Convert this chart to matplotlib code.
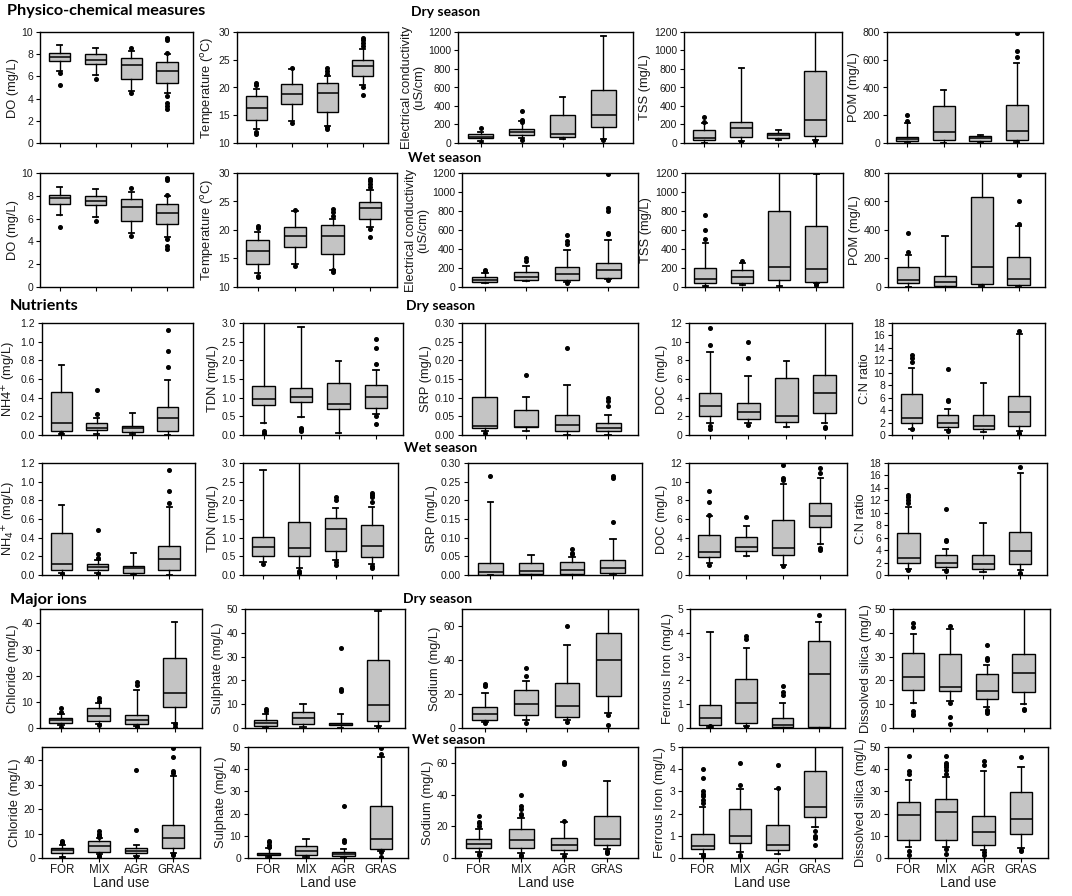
import matplotlib
matplotlib.use("Agg")
import matplotlib.pyplot as plt
from matplotlib.ticker import FormatStrFormatter

plt.rcParams['font.family'] = ['Liberation Sans', 'DejaVu Sans']

land_use = ["FOR", "MIX", "AGR", "GRAS"]

# (whislo, q1, median, q3, whishi) per land use ; outliers per land use
do_dry = [(6.5, 7.35, 7.75, 8.1, 8.8), (6.1, 7.15, 7.5, 8.0, 8.6), (4.7, 5.8, 7.05, 7.7, 8.3), (4.5, 5.45, 6.5, 7.3, 8.0)]
do_dry_out = [[6.3, 5.2], [5.8], [8.6, 4.5], [9.5, 9.3, 8.1, 4.2, 3.6, 3.3, 3.1]]
temp_dry = [(12.5, 14.1, 16.3, 18.4, 19.7), (14.0, 17.1, 18.9, 20.6, 23.4), (13.0, 15.6, 19.0, 20.8, 22.0), (20.5, 22.1, 23.8, 24.9, 27.0)]
temp_dry_out = [[20.8, 20.4, 12.0, 11.7], [13.6, 23.5], [12.5, 12.8, 22.5, 23.0, 23.6], [20.0, 18.7, 27.5, 28.0, 28.5, 29.0]]
ec_dry = [(20, 50, 70, 95, 120), (50, 85, 120, 148, 237), (45, 70, 102, 304, 502), (42, 177, 304, 572, 1162)]
ec_dry_out = [[165, 5], [350, 250, 230, 30], [], [30]]
tss_dry = [(0, 35, 50, 138, 219), (20, 60, 166, 226, 813), (30, 49, 85, 113, 138), (30, 71, 254, 777, 1300)]
tss_dry_out = [[283, 230], [10], [], [20]]
pom_dry = [(0, 12, 28, 45, 142), (0, 24, 76, 265, 379), (0, 12, 35, 47, 55), (5, 19, 88, 275, 573)]
pom_dry_out = [[160, 205], [], [], [620, 660, 790, 0]]

do_wet = [(6.3, 7.3, 7.8, 8.1, 8.8), (6.1, 7.2, 7.55, 8.0, 8.6), (4.7, 5.8, 7.0, 7.7, 8.3), (4.4, 5.5, 6.5, 7.3, 8.0)]
do_wet_out = [[5.3], [5.8], [8.7, 4.5], [9.6, 9.4, 8.1, 4.2, 3.6, 3.3]]
temp_wet = [(12.5, 14.1, 16.4, 18.3, 19.6), (14.0, 17.0, 18.9, 20.6, 23.4), (13.0, 15.8, 18.9, 20.9, 22.0), (20.5, 22.0, 23.8, 24.9, 27.0)]
temp_wet_out = [[20.7, 20.3, 12.0, 11.8], [13.7, 23.5], [12.6, 12.9, 22.5, 23.2, 23.7], [20.2, 18.7, 27.5, 28.0, 28.6, 29.0]]
ec_wet = [(40, 50, 75, 105, 150), (60, 71, 107, 153, 224), (55, 71, 142, 213, 392), (80, 96, 178, 249, 498)]
ec_wet_out = [[170, 180], [270, 302], [450, 480, 545, 40], [560, 570, 800, 830, 1190, 70]]
tss_wet = [(10, 46, 81, 198, 466), (20, 46, 106, 176, 250), (15, 71, 212, 798, 1300), (40, 56, 187, 646, 1186)]
tss_wet_out = [[508, 604, 759, 0], [270], [], [30, 20]]
pom_wet = [(0, 31, 47, 141, 224), (0, 7, 35, 78, 360), (10, 24, 141, 631, 900), (0, 16, 59, 212, 426)]
pom_wet_out = [[245, 380], [], [], [440, 600, 788]]

nh4_dry = [(0.01, 0.04, 0.125, 0.46, 0.745), (0.01, 0.05, 0.08, 0.125, 0.18), (0.01, 0.03, 0.07, 0.097, 0.24), (0.0, 0.046, 0.18, 0.30, 0.59)]
nh4_dry_out = [[0.02], [0.22, 0.48], [], [0.73, 0.90, 1.13]]
tdn_dry = [(0.33, 0.8, 0.97, 1.32, 3.1), (0.47, 0.89, 1.03, 1.25, 2.9), (0.05, 0.69, 0.83, 1.38, 1.97), (0.55, 0.72, 1.03, 1.34, 1.75)]
tdn_dry_out = [[0.1, 0.05, 0.0], [0.2, 0.15, 0.1], [], [1.9, 2.33, 2.58, 0.5, 0.3]]
srp_dry = [(0.01, 0.018, 0.025, 0.103, 0.32), (0.01, 0.021, 0.022, 0.067, 0.103), (0.0, 0.012, 0.027, 0.054, 0.133), (0.0, 0.012, 0.02, 0.031, 0.054)]
srp_dry_out = [[0.005], [0.16], [0.233], [0.079, 0.09, 0.10]]
doc_dry = [(1.3, 2.0, 3.15, 4.55, 8.9), (1.3, 1.75, 2.45, 3.4, 6.3), (0.9, 1.4, 2.0, 6.1, 7.9), (1.3, 2.4, 4.55, 6.4, 12.5)]
doc_dry_out = [[9.6, 11.5, 1.0, 0.6], [8.3, 10.0, 1.1], [], [0.9, 0.8]]
cn_dry = [(1.0, 1.9, 2.7, 6.65, 10.8), (0.8, 1.3, 2.0, 3.25, 4.2), (0.5, 0.9, 1.5, 3.25, 8.3), (0.7, 1.5, 3.65, 6.3, 16.2)]
cn_dry_out = [[11.7, 12.3, 12.8, 0.9], [5.5, 5.6, 10.6, 0.7], [], [16.7, 0.3, 0.1]]

nh4_wet = [(0.02, 0.054, 0.118, 0.455, 0.745), (0.02, 0.054, 0.09, 0.118, 0.16), (0.01, 0.025, 0.07, 0.097, 0.24), (0.0, 0.054, 0.175, 0.31, 0.73)]
nh4_wet_out = [[0.01], [0.18, 0.22, 0.48, 0.01], [0.005], [0.77, 0.90, 1.13]]
tdn_wet = [(0.35, 0.5, 0.75, 1.03, 2.8), (0.2, 0.52, 0.72, 1.43, 3.1), (0.4, 0.65, 1.22, 1.53, 1.8), (0.3, 0.49, 0.78, 1.34, 1.83)]
tdn_wet_out = [[0.3], [0.1, 0.05], [2.0, 2.1, 0.35, 0.28], [1.95, 2.1, 2.15, 2.2, 0.25, 0.2]]
srp_wet = [(0.0, 0.0, 0.008, 0.031, 0.195), (0.0, 0.003, 0.011, 0.033, 0.054), (0.0, 0.004, 0.013, 0.036, 0.047), (0.0, 0.006, 0.018, 0.039, 0.097)]
srp_wet_out = [[0.265], [], [0.055, 0.06, 0.07], [0.143, 0.26, 0.265]]
doc_wet = [(1.3, 1.97, 2.47, 4.3, 6.3), (2.0, 2.6, 3.05, 4.05, 5.3), (1.1, 2.1, 2.87, 5.85, 9.8), (3.3, 5.1, 6.27, 7.7, 10.4)]
doc_wet_out = [[6.4, 7.8, 9.0, 1.1], [6.2], [10.2, 10.4, 11.8, 1.0], [10.9, 11.5, 2.9, 2.7]]
cn_wet = [(1.0, 1.9, 2.7, 6.7, 11.0), (0.8, 1.35, 2.0, 3.25, 4.2), (0.5, 1.0, 1.8, 3.25, 8.3), (0.8, 1.75, 3.8, 6.95, 16.4)]
cn_wet_out = [[11.5, 12.0, 12.5, 12.8, 0.8], [5.4, 5.7, 10.6, 0.7], [], [17.3, 0.4, 0.2]]

cl_dry = [(1.0, 1.9, 2.9, 3.85, 5.5), (1.5, 2.7, 4.5, 7.7, 9.7), (0.8, 1.7, 3.2, 4.9, 14.5), (2.0, 8.0, 13.2, 26.8, 40.5)]
cl_dry_out = [[6.0, 7.5, 0.5], [10.5, 11.5, 1.2], [16.5, 17.5, 0.5], [1.5, 0.3]]
so4_dry = [(0.3, 1.0, 2.0, 3.2, 6.0), (0.5, 1.7, 4.2, 6.8, 10.2), (0.2, 1.3, 1.7, 2.1, 5.8), (1.0, 2.9, 9.5, 28.5, 49.0)]
so4_dry_out = [[7.0, 8.0], [], [15.5, 16.5, 33.5], [0.5]]
na_dry = [(3.5, 4.7, 8.2, 12.5, 20.5), (4.7, 7.8, 13.9, 22.4, 27.8), (4.5, 6.3, 12.9, 26.5, 48.6), (8.8, 19.0, 39.8, 56.0, 75.0)]
na_dry_out = [[25.0, 26.0, 3.0], [30.6, 35.3, 2.7], [59.8, 3.5], [7.5, 2.0]]
fe_dry = [(0.05, 0.14, 0.41, 0.96, 4.05), (0.1, 0.22, 1.06, 2.07, 3.38), (0.0, 0.04, 0.11, 0.43, 1.05), (0.0, 0.04, 2.26, 3.67, 4.45)]
fe_dry_out = [[0.1, 0.0], [3.75, 3.85, 0.05], [1.4, 1.5, 1.75], [4.75]]
si_dry = [(10.5, 16.1, 21.6, 31.6, 39.5), (11.5, 15.7, 17.3, 31.1, 41.5), (9.0, 12.3, 15.7, 22.6, 26.5), (10.0, 15.0, 23.0, 31.1, 55.0)]
si_dry_out = [[42.5, 44.0, 7.0, 6.0, 5.5], [43.0, 10.5, 4.5, 1.5], [28.5, 29.5, 35.0, 7.5, 7.0, 6.5], [8.0, 7.5]]

cl_wet = [(0.5, 2.0, 3.3, 4.3, 5.5), (1.5, 2.6, 5.0, 6.9, 8.0), (0.8, 2.0, 3.0, 4.0, 5.5), (2.0, 4.3, 8.2, 13.7, 33.5)]
cl_wet_out = [[6.0, 6.5, 7.0, 0.2], [8.5, 9.0, 9.5, 10.0, 11.0, 1.0, 0.8], [11.5, 36.0, 0.5], [35.0, 35.5, 41.5, 45.0, 1.5, 1.2]]
so4_wet = [(0.5, 1.4, 1.8, 2.4, 4.5), (0.5, 1.4, 3.1, 5.2, 8.5), (0.5, 1.1, 1.8, 2.8, 4.2), (3.0, 3.9, 8.4, 23.2, 45.5)]
so4_wet_out = [[5.0, 6.0, 7.0, 7.8, 0.3], [], [7.0, 8.0, 23.5], [47.0, 49.5, 2.5, 0.5]]
na_wet = [(3.5, 6.1, 9.1, 12.0, 18.5), (3.0, 6.1, 11.5, 18.4, 25.5), (2.5, 5.0, 8.5, 12.5, 23.0), (5.5, 8.5, 11.9, 26.4, 48.6)]
na_wet_out = [[20.0, 22.0, 23.0, 26.5, 2.5, 2.0], [27.0, 28.0, 31.0, 33.0, 40.0, 2.0, 1.5], [23.5, 59.0, 60.5, 1.5], [4.5, 3.5, 3.0]]
fe_wet = [(0.2, 0.41, 0.56, 1.07, 2.3), (0.25, 0.66, 0.98, 2.2, 3.1), (0.2, 0.37, 0.59, 1.47, 3.1), (1.4, 1.84, 2.31, 3.9, 5.5)]
fe_wet_out = [[2.5, 2.6, 2.8, 2.9, 3.0, 3.6, 4.0, 0.1, 0.15], [3.3, 4.3, 0.15, 0.1], [3.15, 4.2], [1.2, 1.0, 0.9, 0.6]]
si_wet = [(5.0, 7.9, 19.4, 25.3, 35.0), (5.0, 7.9, 20.6, 26.8, 36.5), (3.5, 5.9, 11.6, 18.7, 39.0), (4.5, 10.6, 17.6, 29.7, 41.0)]
si_wet_out = [[38.0, 39.0, 46.0, 3.0, 1.5], [38.0, 39.5, 41.0, 42.0, 43.0, 46.0, 4.0, 2.0], [42.0, 43.5, 2.5, 1.5], [45.5, 3.5, 3.0]]

# axis settings: (ylabel, ylim, yticks, format)
ax_do = ("DO (mg/L)", (0, 10), [0, 2, 4, 6, 8, 10], "%d")
ax_temp = ("Temperature ($^{\\mathrm{o}}$C)", (10, 30), [10, 15, 20, 25, 30], "%d")
ax_ec = ("Electrical conductivity\n(uS/cm)", (0, 1200), list(range(0, 1201, 200)), "%d")
ax_tss = ("TSS (mg/L)", (0, 1200), list(range(0, 1201, 200)), "%d")
ax_pom = ("POM (mg/L)", (0, 800), list(range(0, 801, 200)), "%d")
ax_nh4_d = ("NH4$^{+}$ (mg/L)", (0, 1.2), [0, 0.2, 0.4, 0.6, 0.8, 1.0, 1.2], "%.1f")
ax_nh4_w = ("NH$_4$$^{+}$ (mg/L)", (0, 1.2), [0, 0.2, 0.4, 0.6, 0.8, 1.0, 1.2], "%.1f")
ax_tdn = ("TDN (mg/L)", (0, 3), [0, 0.5, 1.0, 1.5, 2.0, 2.5, 3.0], "%.1f")
ax_srp = ("SRP (mg/L)", (0, 0.3), [0, 0.05, 0.10, 0.15, 0.20, 0.25, 0.30], "%.2f")
ax_doc = ("DOC (mg/L)", (0, 12), [0, 2, 4, 6, 8, 10, 12], "%d")
ax_cn = ("C:N ratio", (0, 18), list(range(0, 19, 2)), "%d")
ax_cl = ("Chloride (mg/L)", (0, 45.5), [0, 10, 20, 30, 40], "%d")
ax_so4 = ("Sulphate (mg/L)", (0, 50), [0, 10, 20, 30, 40, 50], "%d")
ax_na = ("Sodium (mg/L)", (0, 70), [0, 20, 40, 60], "%d")
ax_fe = ("Ferrous Iron (mg/L)", (0, 5), [0, 1, 2, 3, 4, 5], "%d")
ax_si = ("Dissolved silica (mg/L)", (0, 50), [0, 10, 20, 30, 40, 50], "%d")

rows = [
    [(do_dry, do_dry_out, ax_do), (temp_dry, temp_dry_out, ax_temp), (ec_dry, ec_dry_out, ax_ec), (tss_dry, tss_dry_out, ax_tss), (pom_dry, pom_dry_out, ax_pom)],
    [(do_wet, do_wet_out, ax_do), (temp_wet, temp_wet_out, ax_temp), (ec_wet, ec_wet_out, ax_ec), (tss_wet, tss_wet_out, ax_tss), (pom_wet, pom_wet_out, ax_pom)],
    [(nh4_dry, nh4_dry_out, ax_nh4_d), (tdn_dry, tdn_dry_out, ax_tdn), (srp_dry, srp_dry_out, ax_srp), (doc_dry, doc_dry_out, ax_doc), (cn_dry, cn_dry_out, ax_cn)],
    [(nh4_wet, nh4_wet_out, ax_nh4_w), (tdn_wet, tdn_wet_out, ax_tdn), (srp_wet, srp_wet_out, ax_srp), (doc_wet, doc_wet_out, ax_doc), (cn_wet, cn_wet_out, ax_cn)],
    [(cl_dry, cl_dry_out, ax_cl), (so4_dry, so4_dry_out, ax_so4), (na_dry, na_dry_out, ax_na), (fe_dry, fe_dry_out, ax_fe), (si_dry, si_dry_out, ax_si)],
    [(cl_wet, cl_wet_out, ax_cl), (so4_wet, so4_wet_out, ax_so4), (na_wet, na_wet_out, ax_na), (fe_wet, fe_wet_out, ax_fe), (si_wet, si_wet_out, ax_si)],
]

# layout in pixels
W, H = 1072, 896
row_tb = [(32, 143), (173, 287), (323, 435), (463, 575), (609, 728), (747, 858)]
row_cols = [
    [(40, 193), (237, 388), (458, 633), (684, 842), (887, 1043)],
    [(40, 193), (237, 397), (462, 638), (685, 843), (888, 1045)],
    [(42, 193), (243, 403), (462, 638), (689, 852), (892, 1045)],
    [(42, 195), (243, 398), (468, 642), (689, 847), (888, 1047)],
    [(40, 202), (245, 405), (462, 638), (690, 845), (893, 1050)],
    [(42, 200), (248, 408), (455, 638), (682, 842), (888, 1048)],
]

fig = plt.figure(figsize=(W / 100, H / 100), dpi=100)
fig.patch.set_facecolor("white")

txt_col = "#1a1a1a"
box_col = "#c4c4c4"

for r, row in enumerate(rows):
    top, bot = row_tb[r]
    for c, (summ, outl, spec) in enumerate(row):
        l, rr = row_cols[r][c]
        ax = fig.add_axes([l / W, 1 - bot / H, (rr - l) / W, (bot - top) / H])
        stats = []
        for name, s, f in zip(land_use, summ, outl):
            stats.append(dict(label=name, whislo=s[0], q1=s[1], med=s[2], q3=s[3], whishi=s[4], fliers=f))
        ax.bxp(stats, positions=[1, 2, 3, 4], widths=0.6, patch_artist=True, showfliers=True,
               boxprops=dict(facecolor=box_col, edgecolor="black", linewidth=1.0),
               medianprops=dict(color="black", linewidth=1.1),
               whiskerprops=dict(color="black", linewidth=1.0),
               capprops=dict(color="black", linewidth=1.3),
               capwidths=0.14,
               flierprops=dict(marker="o", markersize=2.6, markerfacecolor="black", markeredgecolor="black", linestyle="none"))
        ylabel, ylim, yticks, fmt = spec
        ax.set_xlim(0.45, 4.72)
        ax.set_ylim(*ylim)
        ax.set_yticks(yticks)
        ax.yaxis.set_major_formatter(FormatStrFormatter(fmt))
        ax.set_xticks([1, 2, 3, 4])
        ax.tick_params(axis="both", direction="out", length=3, width=0.8, colors="black",
                       labelcolor=txt_col, pad=2)
        ax.tick_params(axis="y", labelsize=7.5)
        if r == len(rows) - 1:
            ax.set_xticklabels(land_use)
            ax.tick_params(axis="x", labelsize=8.3, pad=1)
            ax.set_xlabel("Land use", fontsize=9.8, color=txt_col)
            ax.xaxis.set_label_coords(0.5, -0.165)
        else:
            ax.set_xticklabels([])
        ax.set_ylabel(ylabel, fontsize=9.3, color=txt_col, labelpad=2, linespacing=1.0)
        for sp in ax.spines.values():
            sp.set_linewidth(1.0)
            sp.set_color("black")

title_font = dict(family=["Lato", "DejaVu Sans"], color="black", va="center", ha="left")
fig.text(7 / W, 1 - 11 / H, "Physico-chemical measures", fontsize=11.7, fontweight="bold", **title_font)
fig.text(411 / W, 1 - 12 / H, "Dry season", fontsize=10, fontweight="bold", **title_font)
fig.text(408 / W, 1 - 158 / H, "Wet season", fontsize=10, fontweight="bold", **title_font)
fig.text(10 / W, 1 - 306 / H, "Nutrients", fontsize=11.7, fontweight="bold", **title_font)
fig.text(406 / W, 1 - 306 / H, "Dry season", fontsize=10, fontweight="bold", **title_font)
fig.text(404 / W, 1 - 448 / H, "Wet season", fontsize=10, fontweight="bold", **title_font)
fig.text(10 / W, 1 - 600 / H, "Major ions", fontsize=11.7, fontweight="bold", **title_font)
fig.text(403 / W, 1 - 599 / H, "Dry season", fontsize=10, fontweight="bold", **title_font)
fig.text(412 / W, 1 - 740 / H, "Wet season", fontsize=10, fontweight="bold", **title_font)

fig.savefig("out.png", dpi=100, facecolor="white")
